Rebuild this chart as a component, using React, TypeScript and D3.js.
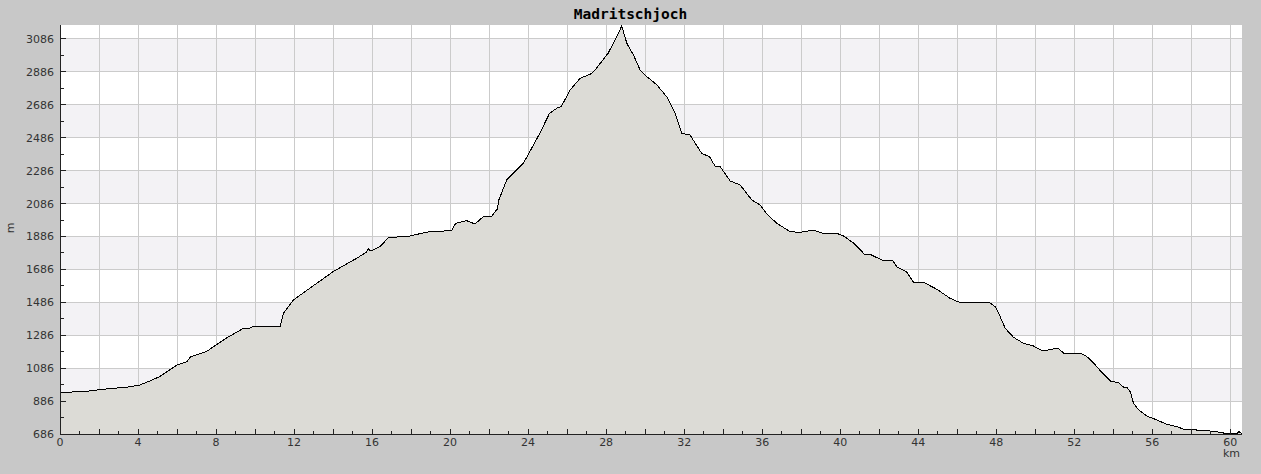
import { area, line, range, scaleLinear } from 'd3'

// Track profile
const distanceKm = [
  0, 1.2, 2.2, 3.4, 4.1, 4.6, 5.1, 6.0, 6.5, 6.7, 7.5, 8.0, 8.5, 9.4, 9.7, 9.9,
  11.28, 11.37, 11.45, 11.96, 12.8, 14.0, 15.2, 15.7, 15.8, 15.9, 16.06, 16.4, 16.84, 17.95,
  18.8, 19.5, 20.09, 20.2, 20.3, 20.85, 21.28, 21.7, 22.14, 22.38, 22.42, 22.5, 22.9, 23.76,
  24.6, 25.1, 25.55, 25.7, 26.15, 26.67, 27.27, 27.5, 28.1, 28.63, 28.8, 29.06, 29.4, 29.74,
  30.09, 30.6, 31.1, 31.54, 31.88, 32.3, 32.9, 33.3, 33.6, 33.85, 34.36, 34.87, 35.47, 35.9,
  36.24, 36.75, 37.44, 37.95, 38.63, 39.14, 39.83, 40.17, 40.7, 41.28, 41.6, 42.2, 42.7, 42.9,
  43.4, 43.76, 44.27, 44.96, 45.64, 46.07, 46.67, 47.69, 47.95, 48.2, 48.46, 48.89, 49.4, 49.9,
  50.4, 50.85, 51.2, 51.45, 52.4, 52.65, 53.0, 53.33, 53.85, 54.27, 54.53, 54.7, 54.87, 55.04,
  55.3, 55.73, 56.24, 56.75, 57.27, 57.6, 58.3, 58.8, 59.3, 59.74, 60.08, 60.3, 60.45, 60.6,
]
const elevationM = [
  939, 943, 958, 970, 984, 1008, 1034, 1105, 1125, 1156, 1186, 1227, 1267, 1328, 1328, 1338,
  1338, 1380, 1419, 1500, 1571, 1672, 1753, 1790, 1812, 1800, 1804, 1824, 1879, 1889,
  1913, 1917, 1925, 1950, 1966, 1982, 1962, 2006, 2010, 2047, 2047, 2108, 2229, 2331,
  2513, 2635, 2671, 2675, 2776, 2847, 2877, 2908, 2999, 3121, 3165, 3060, 2989, 2898,
  2857, 2807, 2736, 2635, 2513, 2503, 2391, 2371, 2310, 2310, 2223, 2199, 2108, 2077,
  2023, 1966, 1915, 1911, 1925, 1905, 1905, 1889, 1845, 1774, 1774, 1739, 1739, 1702,
  1672, 1608, 1608, 1565, 1510, 1488, 1482, 1482, 1459, 1399, 1328, 1273, 1237, 1221,
  1190, 1202, 1205, 1178, 1172, 1156, 1116, 1071, 1008, 998, 970, 970, 943, 872,
  832, 795, 771, 745, 730, 716, 710, 706, 700, 690, 690, 686, 700, 686,
]

const xTickLabels = [0, 4, 8, 12, 16, 20, 24, 28, 32, 36, 40, 44, 48, 52, 56, 60]
const yTickLabels = [686, 886, 1086, 1286, 1486, 1686, 1886, 2086, 2286, 2486, 2686, 2886, 3086]

const title = 'Madritschjoch'

export default function App() {
  const width = 1261
  const height = 474
  const left = 60
  const right = 1242
  const top = 25
  const bottom = 434

  const x = scaleLinear().domain([0, 60.6]).range([left, right])
  const y = scaleLinear().domain([686, 3171]).range([bottom, top])

  const points = distanceKm.map((d, i) => [d, elevationM[i]] as [number, number])
  const fillPath = area<[number, number]>()
    .x((d) => x(d[0]))
    .y0(bottom)
    .y1((d) => y(d[1]))(points)
  const linePath = line<[number, number]>()
    .x((d) => x(d[0]))
    .y((d) => y(d[1]))(points)

  const gridX = range(2, 61, 2)
  const minorX = range(1, 61, 2)
  const minorY = yTickLabels.slice(0, -1).map((v) => v + 100)
  // every other 200 m band is tinted, starting at 886
  const bands = yTickLabels.filter((v, i) => i % 2 === 1)
  const font = 'DejaVu Sans, sans-serif'

  return (
    <div style={{ position: 'absolute', left: 0, top: 0 }}>
      <svg width={width} height={height} viewBox={`0 0 ${width} ${height}`}>
        <rect width={width} height={height} fill="#c8c8c8" />
        <rect x={left} y={top} width={right - left} height={bottom - top} fill="#ffffff" />
        {bands.map((v) => (
          <rect key={v} x={left} y={y(v + 200)} width={right - left} height={y(v) - y(v + 200)} fill="#f3f2f5" />
        ))}
        <g stroke="#cbcbcb" strokeWidth="1" shapeRendering="crispEdges">
          {gridX.map((d) => (
            <line key={`gx${d}`} x1={x(d)} x2={x(d)} y1={top} y2={bottom} />
          ))}
          {yTickLabels.slice(1).map((v) => (
            <line key={`gy${v}`} x1={left} x2={right} y1={y(v)} y2={y(v)} />
          ))}
        </g>
        <path d={fillPath ?? ''} fill="#dcdbd6" />
        <path d={linePath ?? ''} fill="none" stroke="#000000" strokeWidth="1" shapeRendering="crispEdges" />
        <g stroke="#222222" strokeWidth="1" shapeRendering="crispEdges">
          <line x1={left} x2={left} y1={top} y2={bottom} />
          <line x1={left} x2={right} y1={bottom} y2={bottom} />
          {yTickLabels.map((v) => (
            <line key={`ty${v}`} x1={left} x2={left + 6} y1={y(v)} y2={y(v)} />
          ))}
          {minorY.map((v) => (
            <line key={`my${v}`} x1={left} x2={left + 4} y1={y(v)} y2={y(v)} />
          ))}
          {gridX.map((d) => (
            <line key={`tx${d}`} x1={x(d)} x2={x(d)} y1={bottom} y2={bottom - 5} />
          ))}
          {minorX.map((d) => (
            <line key={`mx${d}`} x1={x(d)} x2={x(d)} y1={bottom} y2={bottom - 3} />
          ))}
        </g>
        <g fill="#333333" fontFamily={font} fontSize="11">
          {yTickLabels.map((v) => (
            <text key={`ly${v}`} x={left - 6} y={y(v) + 4} textAnchor="end">
              {v}
            </text>
          ))}
          {xTickLabels.map((d) => (
            <text key={`lx${d}`} x={x(d)} y={bottom + 12} textAnchor="middle">
              {d}
            </text>
          ))}
          <text x={1240} y={457} textAnchor="end">km</text>
          <text x={14} y={228} textAnchor="middle" transform="rotate(-90 14 228)">m</text>
        </g>
        <text x={width / 2} y={19} textAnchor="middle" fontFamily="DejaVu Sans Mono, monospace" fontWeight="bold" fontSize="14.5" fill="#000000">
          {title}
        </text>
      </svg>
    </div>
  )
}
